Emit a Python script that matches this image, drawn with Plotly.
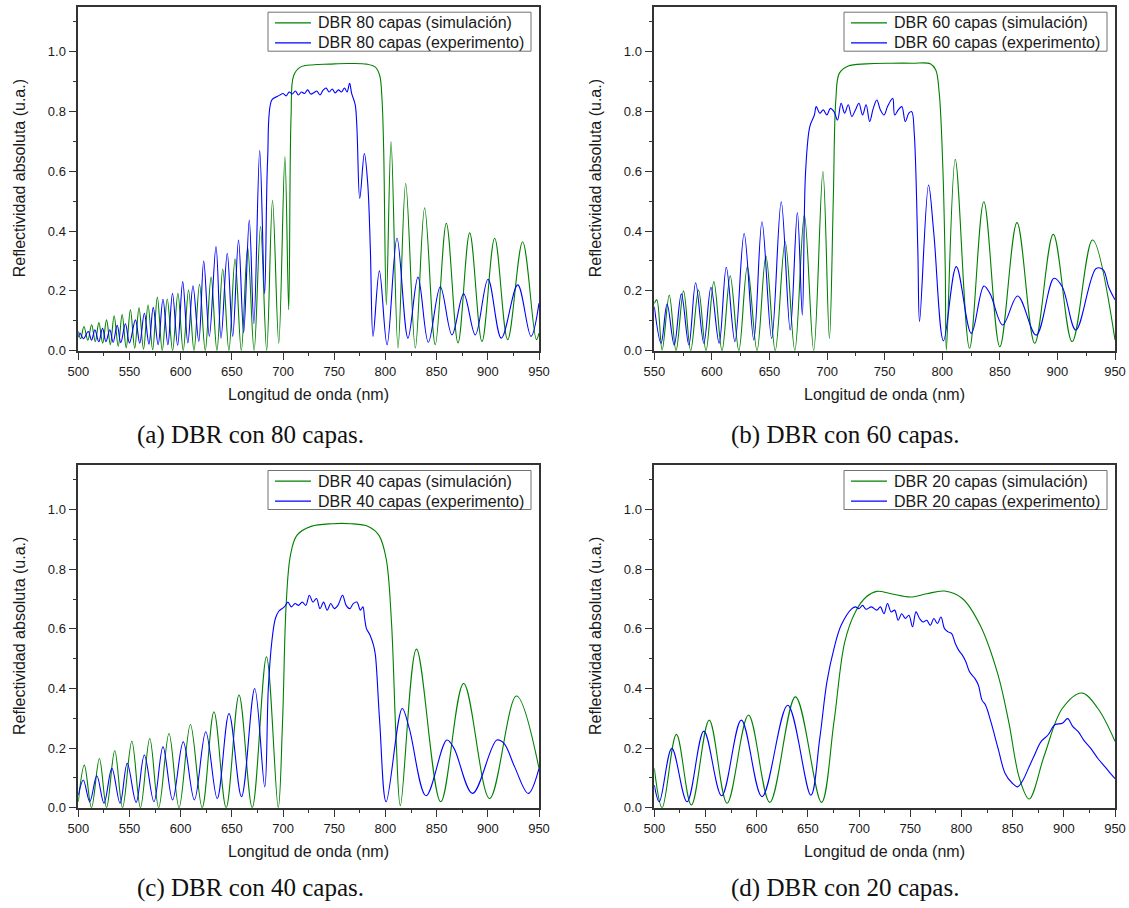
import plotly.graph_objects as go

W, H = 1129, 908

# ---------------- Panel (a): 80 capas ----------------
x80_sim = [500, 502.3, 505.5, 509.3, 513, 516.6, 520.1, 523.8, 527.6, 531.3, 535, 539, 542.8, 546.8,
           550.9, 555.1, 559.3, 563.7, 568.1, 572.6, 577.2, 582, 586.9, 592.1, 597.3, 602.5, 607.7,
           613, 618.4, 624, 629.7, 635.4, 641.1, 647.1, 653.1, 659.2, 665.4, 671.7, 678, 684, 689.7,
           695.8, 701.8, 705.5, 707.8, 710.4, 716.9, 730, 745, 762.5, 782, 790.2, 794.4, 796.7, 798.3,
           800.9, 805.5, 812.3, 819.8, 829.2, 838.3, 848.7, 859.5, 870.9, 882.3, 894.3, 906.7,
           919.4, 934, 947.4, 950]
y80_sim = [0.065, 0.04, 0.081, 0.035, 0.087, 0.03, 0.094, 0.025, 0.103, 0.02, 0.117, 0.015, 0.121, 0.01,
           0.137, 0.008, 0.143, 0.005, 0.153, 0.003, 0.179, 0.0, 0.173, 0.0, 0.192, 0.0, 0.203,
           0.0, 0.222, 0.0, 0.246, 0.0, 0.273, 0.0, 0.307, 0.0, 0.346, 0.0, 0.415, 0.0, 0.503,
           0.025, 0.648, 0.137, 0.78, 0.92, 0.948, 0.956, 0.958, 0.96, 0.958, 0.948, 0.92, 0.837, 0.67,
           0.153, 0.698, 0.009, 0.559, 0.009, 0.478, 0.02, 0.426, 0.026, 0.394, 0.031, 0.376,
           0.037, 0.364, 0.037, 0.059]

x80_exp = [500, 501.6, 505, 509.7, 513, 516.2, 520, 523.7, 527, 530.8, 534, 538, 541.5, 546, 550,
           555.8, 560, 564.5, 569, 573.2, 578, 582.7, 587.5, 592, 597, 602, 607, 612, 617.7, 622.5,
           628, 634.5, 639.4, 645.5, 650.8, 656.5, 661.5, 667, 671.5, 677.2, 682, 684.9, 689, 694.3,
           697, 700, 703, 706, 709, 712, 715, 718, 721, 724, 727, 730, 733, 736, 739, 742, 745, 748,
           751, 754, 757, 760, 762.5, 765, 767, 770.6, 774.9, 779.4, 782.7, 785.3, 787.9, 794.1,
           801.6, 811.3, 822, 831.8, 841.9, 853.6, 865, 876.4, 887.8, 900.2, 913.2, 929.2, 942.2, 950]
y80_exp = [0.045, 0.059, 0.04, 0.064, 0.035, 0.07, 0.03, 0.075, 0.03, 0.07, 0.028, 0.085, 0.027, 0.09, 0.026,
           0.103, 0.025, 0.125, 0.022, 0.145, 0.02, 0.172, 0.02, 0.192, 0.018, 0.231, 0.026, 0.217, 0.031, 0.30,
           0.048, 0.348, 0.042, 0.326, 0.048, 0.37, 0.06, 0.437, 0.09, 0.669, 0.19, 0.638, 0.838, 0.85,
           0.855, 0.86, 0.852, 0.865, 0.858, 0.868, 0.855, 0.865, 0.86, 0.872, 0.858, 0.862, 0.868, 0.855,
           0.87, 0.878, 0.865, 0.875, 0.862, 0.872, 0.865, 0.878, 0.865, 0.894, 0.86, 0.82, 0.509, 0.659,
           0.559, 0.337, 0.048, 0.267, 0.02, 0.376, 0.042, 0.246, 0.028, 0.214, 0.053, 0.19, 0.053,
           0.239, 0.042, 0.22, 0.048, 0.159]

# ---------------- Panel (b): 60 capas ----------------
x60_sim = [550, 552.2, 556.8, 563, 568.9, 575.4, 581.6, 588.4, 594.9, 601.7, 608.8, 615.9, 623.4, 630.8,
           639.2, 646.9, 655, 663.6, 672, 680.3, 688.4, 696.4, 702, 705.4, 707.6, 710.7, 718.4, 733.9,
           755.6, 774.1, 789.6, 794.3, 797.4, 800.5, 802.6, 803.6, 811.3, 823.7, 836.1, 850, 864.9,
           880.3, 896.4, 912.8, 930.5, 950]
y60_sim = [0.158, 0.17, 0.002, 0.186, 0.0, 0.2, 0.0, 0.203, 0.0, 0.231, 0.0, 0.25, 0.0, 0.281,
           0.0, 0.317, 0.0, 0.365, 0.0, 0.454, 0.0, 0.599, 0.041, 0.504, 0.838, 0.928, 0.952, 0.959,
           0.961, 0.961, 0.959, 0.939, 0.861, 0.615, 0.28, 0.002, 0.64, 0.008, 0.498, 0.013, 0.428,
           0.025, 0.389, 0.03, 0.37, 0.036]

x60_exp = [550, 555.9, 561.1, 567.3, 573.5, 580, 585.9, 593, 599.2, 606.3, 612.5, 620, 628, 636.4,
           643.5, 651.9, 660.2, 668, 674.2, 678.5, 681.3, 685, 689, 690.6, 693.7, 696.7, 699.8, 702.9,
           706, 709.1, 712.2, 715.3, 718.4, 721.5, 724.6, 727.7, 730.8, 733.9, 737, 740.1, 743.2,
           746.3, 749.4, 752.5, 755.6, 757.1, 758.7, 761.8, 764.9, 767.9, 771, 773.5, 775.7, 778.8,
           780.3, 788.1, 792.7, 801.1, 812.2, 825.2, 836.1, 841.6, 852.5, 865.5, 881.6, 897, 904.2,
           916, 933.6, 939.8, 944.4, 950]
y60_exp = [0.147, 0.025, 0.156, 0.019, 0.19, 0.019, 0.227, 0.025, 0.212, 0.025, 0.279, 0.03, 0.392, 0.036,
           0.431, 0.041, 0.498, 0.069, 0.462, 0.119, 0.593, 0.749, 0.788, 0.816, 0.794, 0.805, 0.788, 0.81,
           0.799, 0.771, 0.827, 0.794, 0.822, 0.783, 0.805, 0.827, 0.788, 0.822, 0.766, 0.81, 0.838,
           0.805, 0.788, 0.816, 0.838, 0.844, 0.788, 0.805, 0.816, 0.766, 0.794, 0.799, 0.727, 0.337,
           0.097, 0.554, 0.392, 0.033, 0.281, 0.058, 0.216, 0.19, 0.086, 0.183, 0.052, 0.242, 0.214,
           0.069, 0.275, 0.27, 0.214, 0.17]

# ---------------- Panel (c): 40 capas ----------------
x40_sim = [500, 505.9, 512.9, 520.6, 527.6, 535.6, 543.2, 552.3, 560.7, 569.8, 578.5, 588.6, 598.4,
           609.5, 621, 632.5, 644.4, 657, 669.9, 683.8, 695.3, 699.5, 703, 707.2, 713.5, 727.4, 748.3,
           765.8, 783.2, 793.7, 800.7, 805.9, 810.4, 814.6, 830.3, 854, 876.4, 901.8, 928, 950]
y40_sim = [0.02, 0.143, 0.0, 0.165, 0.0, 0.192, 0.0, 0.223, 0.0, 0.232, 0.0, 0.249, 0.0,
           0.279, 0.0, 0.322, 0.0, 0.378, 0.0, 0.506, 0.0, 0.288, 0.679, 0.847, 0.914, 0.944, 0.953,
           0.953, 0.944, 0.914, 0.836, 0.623, 0.232, 0.007, 0.532, 0.02, 0.417, 0.031, 0.375, 0.132]

x40_exp = [500, 504.9, 511.2, 518.1, 525.1, 532.8, 540.8, 547.8, 556.5, 564.5, 573.9, 582.7, 592.1,
           602.5, 613.4, 624.5, 635.7, 647.2, 659.4, 672.3, 682.1, 685.6, 689, 692.5, 696, 701.3, 704.7,
           708.2, 711.7, 715.2, 718.7, 722.2, 725.7, 729.2, 732.6, 736.1, 739.6, 743.1, 746.6, 750.1,
           753.6, 758.1, 761.6, 765.1, 768.6, 772.1, 775.6, 778, 779.7, 781.5, 785, 788.4, 790.2,
           794.4, 800.7, 816.4, 823.3, 839.7, 860, 867, 885.1, 908.8, 915.8, 926.2, 939.5, 950]
y40_exp = [0.042, 0.093, 0.02, 0.107, 0.015, 0.132, 0.015, 0.149, 0.018, 0.177, 0.02, 0.204, 0.026,
           0.221, 0.026, 0.255, 0.031, 0.316, 0.037, 0.40, 0.07, 0.40, 0.556, 0.635, 0.66, 0.674, 0.69,
           0.674, 0.685, 0.679, 0.69, 0.679, 0.713, 0.69, 0.702, 0.668, 0.69, 0.663, 0.685, 0.668,
           0.679, 0.713, 0.679, 0.668, 0.685, 0.69, 0.663, 0.674, 0.635, 0.601, 0.579, 0.545, 0.512,
           0.288, 0.02, 0.333, 0.266, 0.04, 0.227, 0.199, 0.048, 0.227, 0.216, 0.137, 0.048, 0.132]

# ---------------- Panel (d): 20 capas ----------------
x20_sim = [500, 507.7, 521.6, 536.2, 553.6, 571.1, 592, 612.8, 637.9, 663.3, 675.5, 686, 696.4, 706.9,
           717.3, 731.3, 750.4, 766.1, 783.5, 800.9, 818.3, 835.8, 846.2, 856.7, 866.1, 881.1, 898.5,
           917.6, 933.3, 950]
y20_sim = [0.132, 0.0, 0.246, 0.009, 0.294, 0.015, 0.311, 0.018, 0.372, 0.018, 0.288, 0.556, 0.657, 0.707,
           0.726, 0.718, 0.707, 0.718, 0.727, 0.702, 0.612, 0.445, 0.288, 0.098, 0.029, 0.177, 0.333,
           0.385, 0.333, 0.223]

x20_exp = [500, 504.9, 517.1, 532, 548.4, 565.8, 585, 605.2, 630.3, 652.9, 661.6, 668.6, 675.5, 682.5,
           693, 696.4, 699.9, 703.4, 706.9, 712.1, 717.3, 720.8, 724.3, 727.8, 731.3, 734.8, 738.2,
           741.7, 745.2, 748.7, 752.2, 755.6, 759.1, 762.6, 766.1, 769.6, 773.1, 776.5, 780, 783.5,
           787, 790.5, 794, 797.4, 800.9, 804.4, 807.9, 813.1, 816.6, 820.1, 823.6, 828.8, 835.8,
           842.7, 849.7, 854.9, 860.2, 865.4, 870.6, 877.6, 884.5, 891.5, 898.5, 903.7, 908.9, 914.1,
           919.4, 926.3, 933.3, 940.3, 945.5, 950]
y20_exp = [0.076, 0.02, 0.199, 0.02, 0.257, 0.04, 0.294, 0.037, 0.344, 0.042, 0.232, 0.422, 0.534, 0.612,
           0.668, 0.674, 0.668, 0.679, 0.666, 0.674, 0.663, 0.674, 0.651, 0.685, 0.657, 0.663, 0.629,
           0.651, 0.635, 0.646, 0.607, 0.657, 0.635, 0.623, 0.629, 0.612, 0.635, 0.618, 0.64, 0.601,
           0.59, 0.584, 0.551, 0.528, 0.512, 0.489, 0.456, 0.434, 0.411, 0.361, 0.344, 0.288, 0.199,
           0.115, 0.082, 0.07, 0.093, 0.132, 0.171, 0.221, 0.244, 0.279, 0.283, 0.299, 0.272, 0.255,
           0.227, 0.199, 0.165, 0.137, 0.115, 0.098]

panels = [
    dict(n="80", xs=x80_sim, ys=y80_sim, xe=x80_exp, ye=y80_exp, xr=[500, 950],
         box=(78.3, 539.0, 6.7, 350.7), cap="(a) DBR con 80 capas.", capx=250, capy=435),
    dict(n="60", xs=x60_sim, ys=y60_sim, xe=x60_exp, ye=y60_exp, xr=[550, 950],
         box=(654.3, 1115.0, 6.7, 350.7), cap="(b) DBR con 60 capas.", capx=845, capy=435),
    dict(n="40", xs=x40_sim, ys=y40_sim, xe=x40_exp, ye=y40_exp, xr=[500, 950],
         box=(78.3, 539.0, 465.0, 807.7), cap="(c) DBR con 40 capas.", capx=250, capy=888),
    dict(n="20", xs=x20_sim, ys=y20_sim, xe=x20_exp, ye=y20_exp, xr=[500, 950],
         box=(654.3, 1115.0, 465.0, 807.7), cap="(d) DBR con 20 capas.", capx=845, capy=888),
]

GREEN = "#008000"
BLUE = "#0000ff"
AX = "#333333"
TXT = "#1a1a1a"
SANS = "Liberation Sans, Arial, sans-serif"


def px(xv):
    return xv / W


def py(yv):
    return 1 - yv / H


fig = go.Figure()
layout = dict(width=W, height=H, margin=dict(l=0, r=0, t=0, b=0, autoexpand=False),
              paper_bgcolor="white", plot_bgcolor="white", showlegend=False,
              font=dict(family=SANS, color=TXT))
annotations = []
shapes = []

for i, p in enumerate(panels):
    k = "" if i == 0 else str(i + 1)
    xa, ya = "x" + k, "y" + k
    l, r, t, b = p["box"]
    sim_name = f"DBR {p['n']} capas (simulación)"
    exp_name = f"DBR {p['n']} capas (experimento)"
    fig.add_trace(go.Scatter(x=p["xs"], y=p["ys"], mode="lines", xaxis=xa, yaxis=ya, name=sim_name,
                             line=dict(color=GREEN, width=1.1, shape="spline", smoothing=1)))
    fig.add_trace(go.Scatter(x=p["xe"], y=p["ye"], mode="lines", xaxis=xa, yaxis=ya, name=exp_name,
                             line=dict(color=BLUE, width=1.1, shape="spline", smoothing=1)))
    common = dict(showgrid=False, zeroline=False, showline=True, linecolor=AX, linewidth=1.5,
                  mirror=True, ticks="outside", ticklen=8, tickwidth=1.3, tickcolor=AX,
                  tickfont=dict(size=13, color=TXT, family=SANS))
    layout["xaxis" + k] = dict(common, domain=[px(l), px(r)], range=p["xr"], anchor=ya,
                               dtick=50, tick0=500,
                               minor=dict(ticks="outside", ticklen=4, dtick=25, tickcolor=AX, tickwidth=1.3))
    layout["yaxis" + k] = dict(common, domain=[py(b), py(t)], range=[0, 1.15], anchor=xa,
                               tickvals=[0, 0.2, 0.4, 0.6, 0.8, 1.0], tickformat=".1f",
                               minor=dict(ticks="outside", ticklen=4, tickvals=[0.1, 0.3, 0.5, 0.7, 0.9, 1.1],
                                          tickcolor=AX, tickwidth=1.3))

    # legend box (drawn in figure pixels)
    bx1 = r - 8
    bx0 = bx1 - 263
    by0 = t + 5.5
    by1 = by0 + 39
    shapes.append(dict(type="rect", xref="paper", yref="paper", x0=px(bx0), x1=px(bx1),
                       y0=py(by1), y1=py(by0), line=dict(color="#707070", width=1),
                       fillcolor="white", layer="above"))
    for j, (nm, col) in enumerate([(sim_name, GREEN), (exp_name, BLUE)]):
        yc = by0 + 10.7 + 20 * j
        shapes.append(dict(type="line", xref="paper", yref="paper", x0=px(bx0 + 7), x1=px(bx0 + 43),
                           y0=py(yc), y1=py(yc), line=dict(color=col, width=1.3), layer="above"))
        annotations.append(dict(text=nm, xref="paper", yref="paper", x=px(bx0 + 48), y=py(yc),
                                xanchor="left", yanchor="middle", showarrow=False,
                                font=dict(size=16, color=TXT, family=SANS)))

    # axis titles
    annotations.append(dict(text="Longitud de onda (nm)", xref="paper", yref="paper",
                            x=px((l + r) / 2), y=py(b + 43.5), xanchor="center", yanchor="middle",
                            showarrow=False, font=dict(size=16, color=TXT, family=SANS)))
    annotations.append(dict(text="Reflectividad absoluta (u.a.)", xref="paper", yref="paper",
                            x=px(l - 58.7), y=py((t + b) / 2), xanchor="center", yanchor="middle",
                            textangle=-90, showarrow=False, font=dict(size=16, color=TXT, family=SANS)))
    annotations.append(dict(text=p["cap"], xref="paper", yref="paper",
                            x=px(p["capx"]), y=py(p["capy"]), xanchor="center", yanchor="middle",
                            showarrow=False,
                            font=dict(size=25, color="#111111", family="Liberation Serif, DejaVu Serif, serif")))

layout["annotations"] = annotations
layout["shapes"] = shapes
fig.update_layout(**layout)
fig.write_html("out.html", config={"displayModeBar": False},
               post_script="document.body.style.margin='0';document.body.style.padding='0';")
